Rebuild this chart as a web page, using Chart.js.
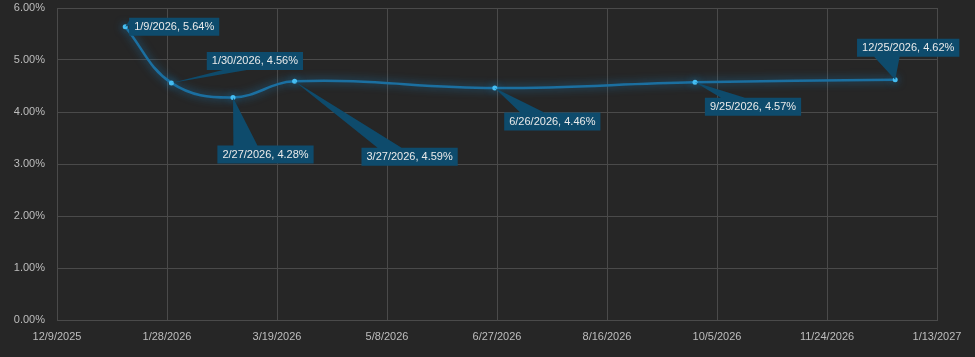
<!DOCTYPE html>
<html>
<head>
<meta charset="utf-8">
<script src="https://cdn.jsdelivr.net/npm/chart.js@4"></script>
<style>
  html, body { margin: 0; padding: 0; background: #262626; }
  #wrap { width: 975px; height: 357px; position: relative; }
</style>
</head>
<body>
<div id="wrap"><canvas id="rate-chart"></canvas></div>
<script>
// data
const startDate = '2025-12-09';
const dates = ['2026-01-09', '2026-01-30', '2026-02-27', '2026-03-27', '2026-06-26', '2026-09-25', '2026-12-25'];
const rates = [5.64, 4.56, 4.28, 4.59, 4.46, 4.57, 4.62];
// x axis: days since start, one tick each 50 days
const xMin = 0, xMax = 400, xStep = 50;
const yMin = 0, yMax = 6, yStep = 1;

// callout box centre, relative to its point (px)
const labelOffsets = [[49, 0], [83.5, -22], [32.5, 57], [115, 75.5], [57.5, 33.5], [58, 24.5], [13, -32]];

const DAY = 24 * 60 * 60 * 1000;
const toDays = s => (Date.parse(s) - Date.parse(startDate)) / DAY;
const fmtDate = d => {
    const dt = new Date(Date.parse(startDate) + d * DAY);
    return (dt.getUTCMonth() + 1) + '/' + dt.getUTCDate() + '/' + dt.getUTCFullYear();
};

const points = dates.map((d, i) => ({ x: toDays(d), y: rates[i] }));

// office style wedge rect callout
function calloutPath(ctx, l, t, w, h, tx, ty) {
    const hc = l + w / 2, vc = t + h / 2;
    const dx = tx - hc, dy = ty - vc;
    const dz = Math.abs(dy) - Math.abs(dx * h / w);
    const xg1 = dx > 0 ? 7 : 2, xg2 = dx > 0 ? 10 : 5;
    const yg1 = dy > 0 ? 7 : 2, yg2 = dy > 0 ? 10 : 5;
    ctx.beginPath();
    ctx.moveTo(l, t);
    if (dz > 0 && dy < 0) { ctx.lineTo(l + w * xg1 / 12, t); ctx.lineTo(tx, ty); ctx.lineTo(l + w * xg2 / 12, t); }
    ctx.lineTo(l + w, t);
    if (dz <= 0 && dx > 0) { ctx.lineTo(l + w, t + h * yg1 / 12); ctx.lineTo(tx, ty); ctx.lineTo(l + w, t + h * yg2 / 12); }
    ctx.lineTo(l + w, t + h);
    if (dz > 0 && dy > 0) { ctx.lineTo(l + w * xg2 / 12, t + h); ctx.lineTo(tx, ty); ctx.lineTo(l + w * xg1 / 12, t + h); }
    ctx.lineTo(l, t + h);
    if (dz <= 0 && dx < 0) { ctx.lineTo(l, t + h * yg2 / 12); ctx.lineTo(tx, ty); ctx.lineTo(l, t + h * yg1 / 12); }
    ctx.closePath();
}

const glowPlugin = {
    id: 'glow',
    beforeDatasetDraw(chart) {
        const ctx = chart.ctx;
        ctx.save();
        ctx.shadowColor = 'rgba(25, 140, 210, 0.7)';
        ctx.shadowBlur = 9;
    },
    afterDatasetDraw(chart) {
        chart.ctx.restore();
    }
};

const calloutPlugin = {
    id: 'callouts',
    afterDatasetsDraw(chart) {
        const ctx = chart.ctx;
        const meta = chart.getDatasetMeta(0);
        ctx.save();
        ctx.font = '11px "Liberation Sans", Arial, sans-serif';
        ctx.textAlign = 'center';
        ctx.textBaseline = 'middle';
        meta.data.forEach((pt, i) => {
            const text = fmtDate(points[i].x) + ', ' + rates[i].toFixed(2) + '%';
            const w = ctx.measureText(text).width + 10;
            const h = 18;
            const cx = pt.x + labelOffsets[i][0];
            const cy = pt.y + labelOffsets[i][1];
            calloutPath(ctx, cx - w / 2, cy - h / 2, w, h, pt.x, pt.y);
            ctx.fillStyle = '#0e4b6c';
            ctx.fill();
            ctx.fillStyle = '#eaeaea';
            ctx.fillText(text, cx, cy + 0.5);
        });
        ctx.restore();
    }
};

new Chart(document.getElementById('rate-chart'), {
    type: 'line',
    data: {
        datasets: [{
            data: points,
            borderColor: '#1b6fa0',
            borderWidth: 2.5,
            tension: 0.4,
            pointRadius: 2.5,
            pointBorderWidth: 0,
            pointBackgroundColor: '#45bdf2',
            fill: false
        }]
    },
    options: {
        responsive: true,
        maintainAspectRatio: false,
        animation: false,
        layout: { padding: { left: 0, right: 38, top: 8, bottom: 0 } },
        plugins: {
            legend: { display: false },
            tooltip: { enabled: false }
        },
        scales: {
            x: {
                type: 'linear',
                min: xMin,
                max: xMax,
                afterFit: s => { s.height = 37; s.paddingLeft = 0; s.paddingRight = 0; },
                grid: { color: '#4a4a4a', lineWidth: 1, drawTicks: false },
                border: { color: '#4a4a4a' },
                ticks: {
                    stepSize: xStep,
                    padding: 10,
                    maxRotation: 0,
                    autoSkip: false,
                    color: '#bdbdbd',
                    font: { family: '"Liberation Sans", Arial, sans-serif', size: 11 },
                    callback: v => fmtDate(v)
                }
            },
            y: {
                min: yMin,
                max: yMax,
                afterFit: s => { s.width = 57; s.paddingTop = 0; s.paddingBottom = 0; },
                grid: { color: '#4a4a4a', lineWidth: 1, drawTicks: false },
                border: { color: '#4a4a4a' },
                ticks: {
                    stepSize: yStep,
                    padding: 12,
                    color: '#bdbdbd',
                    font: { family: '"Liberation Sans", Arial, sans-serif', size: 11 },
                    callback: v => v.toFixed(2) + '%'
                }
            }
        }
    },
    plugins: [glowPlugin, calloutPlugin]
});
</script>
</body>
</html>
